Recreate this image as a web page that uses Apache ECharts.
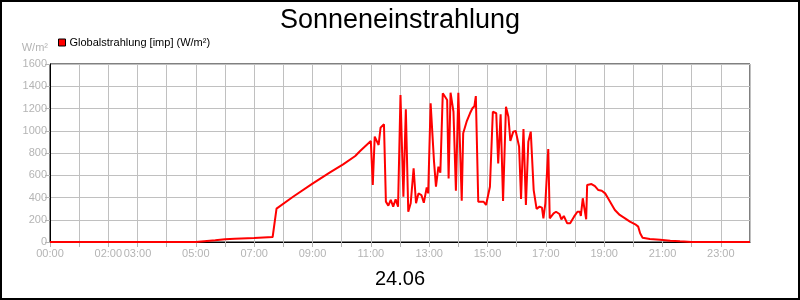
<!DOCTYPE html>
<html>
<head>
<meta charset="utf-8">
<script src="https://cdn.jsdelivr.net/npm/echarts@6/dist/echarts.min.js"></script>
<style>
html,body{margin:0;padding:0;background:#fff;}
#c{width:800px;height:300px;}
</style>
</head>
<body>
<div id="c"></div>
<script>
var chartTitle = "Sonneneinstrahlung";
var dateLabel = "24.06";
var seriesName = "Globalstrahlung [imp] (W/m²)";
var yUnit = "W/m²";
var xTickLabels = ["00:00","02:00","03:00","05:00","07:00","09:00","11:00","13:00","15:00","17:00","19:00","21:00","23:00"];
var times = ["00:00","05:00","05:40","06:00","06:20","07:00","07:38","07:46","08:20","09:00","09:36","10:03","10:28","10:38","11:00","11:04","11:08","11:16","11:20","11:27","11:31","11:36","11:41","11:46","11:51","11:56","12:01","12:07","12:12","12:17","12:22","12:28","12:33","12:38","12:44","12:49","12:55","12:58","13:03","13:10","13:14","13:19","13:23","13:28","13:32","13:37","13:40","13:44","13:50","13:55","14:00","14:07","14:10","14:17","14:24","14:29","14:33","14:36","14:41","14:52","14:57","15:05","15:11","15:18","15:22","15:27","15:32","15:38","15:43","15:47","15:53","15:58","16:05","16:09","16:14","16:19","16:24","16:29","16:35","16:41","16:47","16:52","16:55","16:59","17:05","17:08","17:16","17:21","17:28","17:32","17:37","17:44","17:50","17:58","18:05","18:10","18:12","18:16","18:19","18:23","18:25","18:34","18:41","18:48","18:55","19:02","19:08","19:16","19:22","19:32","19:43","19:53","20:04","20:10","20:14","20:19","20:34","20:55","21:16","21:36","22:00","24:00"];
var values = [0,0,15,25,30,35,45,300,407,525,625,698,773,818,908,512,947,872,1028,1058,363,327,378,318,384,318,1321,407,1193,272,348,662,348,437,422,353,491,437,1246,722,497,677,623,1337,1321,1276,572,1342,1171,461,1342,371,977,1081,1157,1202,1220,1312,362,362,333,497,1171,1157,707,1148,369,1216,1126,908,992,998,857,387,1016,333,902,992,467,297,318,309,213,348,836,213,258,272,252,204,234,168,168,228,272,272,234,393,378,204,512,521,503,467,461,437,393,333,288,243,213,183,159,138,78,39,27,21,12,6,0,0];

function toHours(s){var p=s.split(":");return (+p[0])+(+p[1])/60;}
var data = times.map(function(t,i){return [toHours(t), values[i]];});

var chart = echarts.init(document.getElementById('c'), null, {renderer:'canvas'});
var gray = '#b4b4b4';
var font = 'Liberation Sans, Arial, sans-serif';
chart.setOption({
  animation:false,
  backgroundColor:'#fff',
  textStyle:{fontFamily:font},
  title:[
    {text:chartTitle,left:'center',top:2,textStyle:{fontFamily:font,fontSize:27,fontWeight:'normal',color:'#000'}},
    {text:dateLabel,left:'center',top:264,textStyle:{fontFamily:font,fontSize:20,fontWeight:'normal',color:'#000'}}
  ],
  legend:{
    left:58,top:37,padding:0,itemWidth:7,itemHeight:7,itemGap:10,
    icon:'rect',
    textStyle:{fontFamily:font,fontSize:11,color:'#000',padding:[0,0,0,-1]},
    data:[{name:seriesName,itemStyle:{color:'#ff0000',borderColor:'#000',borderWidth:1}}]
  },
  grid:{left:50,right:50,top:64,bottom:58,show:true,borderColor:'#000',borderWidth:1,containLabel:false},
  xAxis:{
    type:'value',min:0,max:24,interval:1,
    axisLine:{show:true,lineStyle:{color:'#000',width:1}},
    axisTick:{show:true,length:5,lineStyle:{color:gray}},
    splitLine:{show:true,lineStyle:{color:'#c0c0c0',width:1}},
    axisLabel:{color:gray,fontSize:11,fontFamily:font,margin:6,showMaxLabel:false,
      formatter:function(v){var s=(v<10?'0':'')+v+':00';return xTickLabels.indexOf(s)>=0?s:'';}}
  },
  yAxis:{
    type:'value',min:0,max:1600,interval:200,
    name:yUnit,nameLocation:'end',nameGap:11,
    nameTextStyle:{color:gray,fontSize:11,fontFamily:font,align:'right',padding:[0,2,0,0]},
    axisLine:{show:true,lineStyle:{color:'#000',width:1}},
    axisTick:{show:true,length:5,lineStyle:{color:gray}},
    splitLine:{show:true,lineStyle:{color:'#c0c0c0',width:1}},
    axisLabel:{color:gray,fontSize:11,fontFamily:font,margin:3,formatter:function(v){return String(v);}}
  },
  graphic:[{type:'rect',shape:{x:1,y:1,width:798,height:298},style:{fill:null,stroke:'#000',lineWidth:2},z:100}],
  series:[{
    name:seriesName,type:'line',data:data,showSymbol:false,symbol:'none',
    lineStyle:{color:'#ff0000',width:2},itemStyle:{color:'#ff0000'},
    z:5
  }]
});
</script>
</body>
</html>
